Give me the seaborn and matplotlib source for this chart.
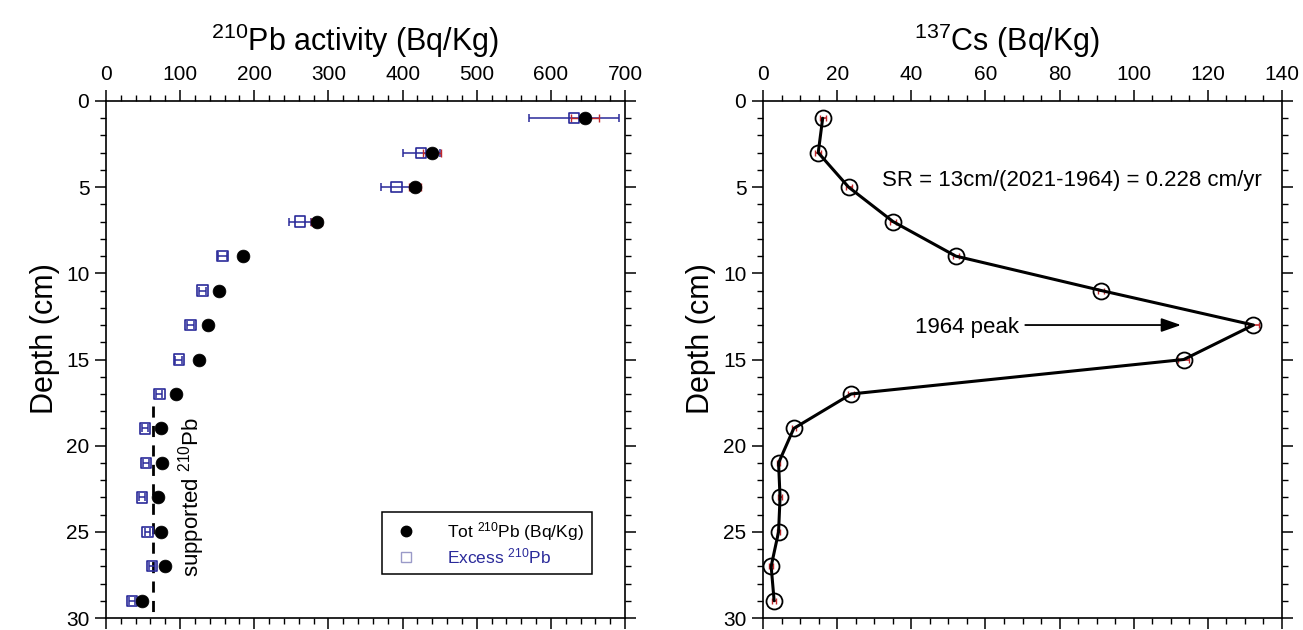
import matplotlib
matplotlib.use("Agg")
import matplotlib.pyplot as plt
import seaborn as sns
import numpy as np
import pandas as pd
from matplotlib.ticker import MultipleLocator
from matplotlib.lines import Line2D

# ---------------- data ----------------
depth = [1, 3, 5, 7, 9, 11, 13, 15, 17, 19, 21, 23, 25, 27, 29]
tot_pb = [646, 440, 417, 284, 185, 152, 138, 126, 94, 74, 76, 70, 74, 80, 48]
tot_pb_err = [19, 12, 8, 8, 4, 3, 3, 3, 2, 2, 2, 2, 2, 2, 2]
excess_pb = [631, 425, 392, 262, 157, 130, 114, 98, 72, 53, 54, 49, 56, 62, 35]
excess_pb_err = [61, 25, 21, 15, 6, 5, 5, 5, 4, 4, 4, 4, 4, 4, 4]
cs137 = [16.1, 14.9, 23.1, 35.1, 52.0, 91.3, 132.3, 113.5, 23.8, 8.3, 4.2, 4.6, 4.2, 2.2, 3.0]
cs137_err = [0.8, 0.8, 0.8, 0.8, 0.8, 0.8, 1.5, 1.5, 0.8, 0.6, 0.5, 0.5, 0.5, 0.5, 0.5]
supported_level = 64
supported_depth = [17.7, 30]

pb_xticks = [0, 100, 200, 300, 400, 500, 600, 700]
cs_xticks = [0, 20, 40, 60, 80, 100, 120, 140]
depth_ticks = [0, 5, 10, 15, 20, 25, 30]

df_pb = pd.DataFrame({"depth": depth, "tot": tot_pb, "tot_err": tot_pb_err,
                      "excess": excess_pb, "excess_err": excess_pb_err})
df_cs = pd.DataFrame({"depth": depth, "cs": cs137, "err": cs137_err})

# ---------------- style ----------------
sns.set_theme(style="ticks")
plt.rcParams["font.family"] = ["Liberation Sans", "DejaVu Sans"]
plt.rcParams["mathtext.fontset"] = "custom"
plt.rcParams["mathtext.rm"] = "Liberation Sans"
plt.rcParams["mathtext.it"] = "Liberation Sans:italic"
plt.rcParams["mathtext.default"] = "regular"
for k in ["text.color", "axes.labelcolor", "xtick.color", "ytick.color",
          "xtick.labelcolor", "ytick.labelcolor", "axes.edgecolor"]:
    plt.rcParams[k] = "black"

BLUE = "#2a2a9a"
RED = "#c0282b"

fig = plt.figure(figsize=(13.03, 6.30), dpi=100)
axL = fig.add_axes([106 / 1303, 12 / 630, 519 / 1303, 517 / 630])
axR = fig.add_axes([763 / 1303, 12 / 630, 519 / 1303, 517 / 630])


def style_axes(ax, xmax, xminor, xticks, label_x):
    ax.set_xlim(0, xmax)
    ax.set_ylim(30, 0)
    ax.xaxis.set_ticks_position("both")
    ax.yaxis.set_ticks_position("both")
    ax.tick_params(axis="x", which="both", labeltop=True, labelbottom=False, direction="out")
    ax.tick_params(axis="y", which="both", labelleft=True, labelright=False, direction="out")
    ax.set_xticks(xticks)
    ax.set_yticks(depth_ticks)
    ax.xaxis.set_minor_locator(MultipleLocator(xminor))
    ax.yaxis.set_minor_locator(MultipleLocator(1))
    ax.tick_params(which="major", length=8, width=1.1, labelsize=15, color="black",
                   labelcolor="black", pad=4)
    ax.tick_params(which="minor", length=4, width=1.0, color="black")
    for s in ax.spines.values():
        s.set_visible(True)
        s.set_linewidth(1.2)
        s.set_color("black")
    ax.set_ylabel("Depth (cm)", fontsize=22)
    ax.yaxis.set_label_coords(label_x, 0.54)
    ax.set_xlabel("")


# ---------------- left panel: 210Pb ----------------
ax = axL
ax.errorbar(df_pb["excess"], df_pb["depth"], xerr=df_pb["excess_err"], fmt="none",
            ecolor=BLUE, elinewidth=1.1, capsize=3, capthick=1.1, zorder=2)
ax.errorbar(df_pb["tot"], df_pb["depth"], xerr=df_pb["tot_err"], fmt="none",
            ecolor=RED, elinewidth=1.0, capsize=3, capthick=1.0, zorder=2)
sns.scatterplot(data=df_pb, x="excess", y="depth", ax=ax, marker="s", s=55,
                facecolor="none", edgecolor=BLUE, linewidth=1.2, zorder=3, legend=False)
sns.scatterplot(data=df_pb, x="tot", y="depth", ax=ax, marker="o", s=85,
                color="black", edgecolor="black", linewidth=0.5, zorder=4, legend=False)
ax.plot([supported_level, supported_level], supported_depth, ls=(0, (4, 3)),
        color="black", lw=2.0, zorder=1)
ax.text(116, 23.0, "supported $^{210}$Pb", rotation=90, fontsize=16,
        ha="center", va="center")
style_axes(ax, 700, 20, pb_xticks, -0.0886)
ax.set_title("$^{210}$Pb activity (Bq/Kg)", fontsize=22, pad=36, x=0.48)

handles = [
    Line2D([], [], marker="o", ls="none", color="black", markersize=7.5),
    Line2D([], [], marker="s", ls="none", markerfacecolor="none",
           markeredgecolor="#9a9ac8", markersize=7, markeredgewidth=1.0),
]
leg = ax.legend(handles, ["Tot $^{210}$Pb (Bq/Kg)", "Excess $^{210}$Pb"],
                loc="lower left", bbox_to_anchor=(0.532, 0.085), borderaxespad=0,
                fontsize=12.5, frameon=True, fancybox=False, edgecolor="black",
                framealpha=1, handletextpad=1.5, borderpad=0.45, labelspacing=0.2,
                handlelength=1.8)
leg.get_frame().set_linewidth(1.1)
leg.get_texts()[1].set_color(BLUE)

# ---------------- right panel: 137Cs ----------------
ax = axR
ax.errorbar(df_cs["cs"], df_cs["depth"], xerr=df_cs["err"], fmt="none",
            ecolor=RED, elinewidth=1.2, capsize=2, capthick=1.0, zorder=2)
sns.lineplot(data=df_cs, x="cs", y="depth", ax=ax, orient="y", sort=False,
             color="black", lw=2.2, marker="o", markersize=11.5,
             markerfacecolor="none", markeredgecolor="black",
             markeredgewidth=1.3, zorder=3, legend=False)
style_axes(ax, 140, 5, cs_xticks, -0.09)
ax.set_title("$^{137}$Cs (Bq/Kg)", fontsize=22, pad=36, x=0.47)
ax.text(83.4, 4.6, "SR = 13cm/(2021-1964) = 0.228 cm/yr", fontsize=16,
        ha="center", va="center")
ax.annotate("", xy=(113.5, 13.0), xytext=(70, 13.0),
            arrowprops=dict(arrowstyle="-|>,head_length=1.0,head_width=0.35",
                            color="black", lw=1.3))
ax.text(69, 13.15, "1964 peak", fontsize=16, ha="right", va="center")

fig.savefig("out.png", dpi=100)
